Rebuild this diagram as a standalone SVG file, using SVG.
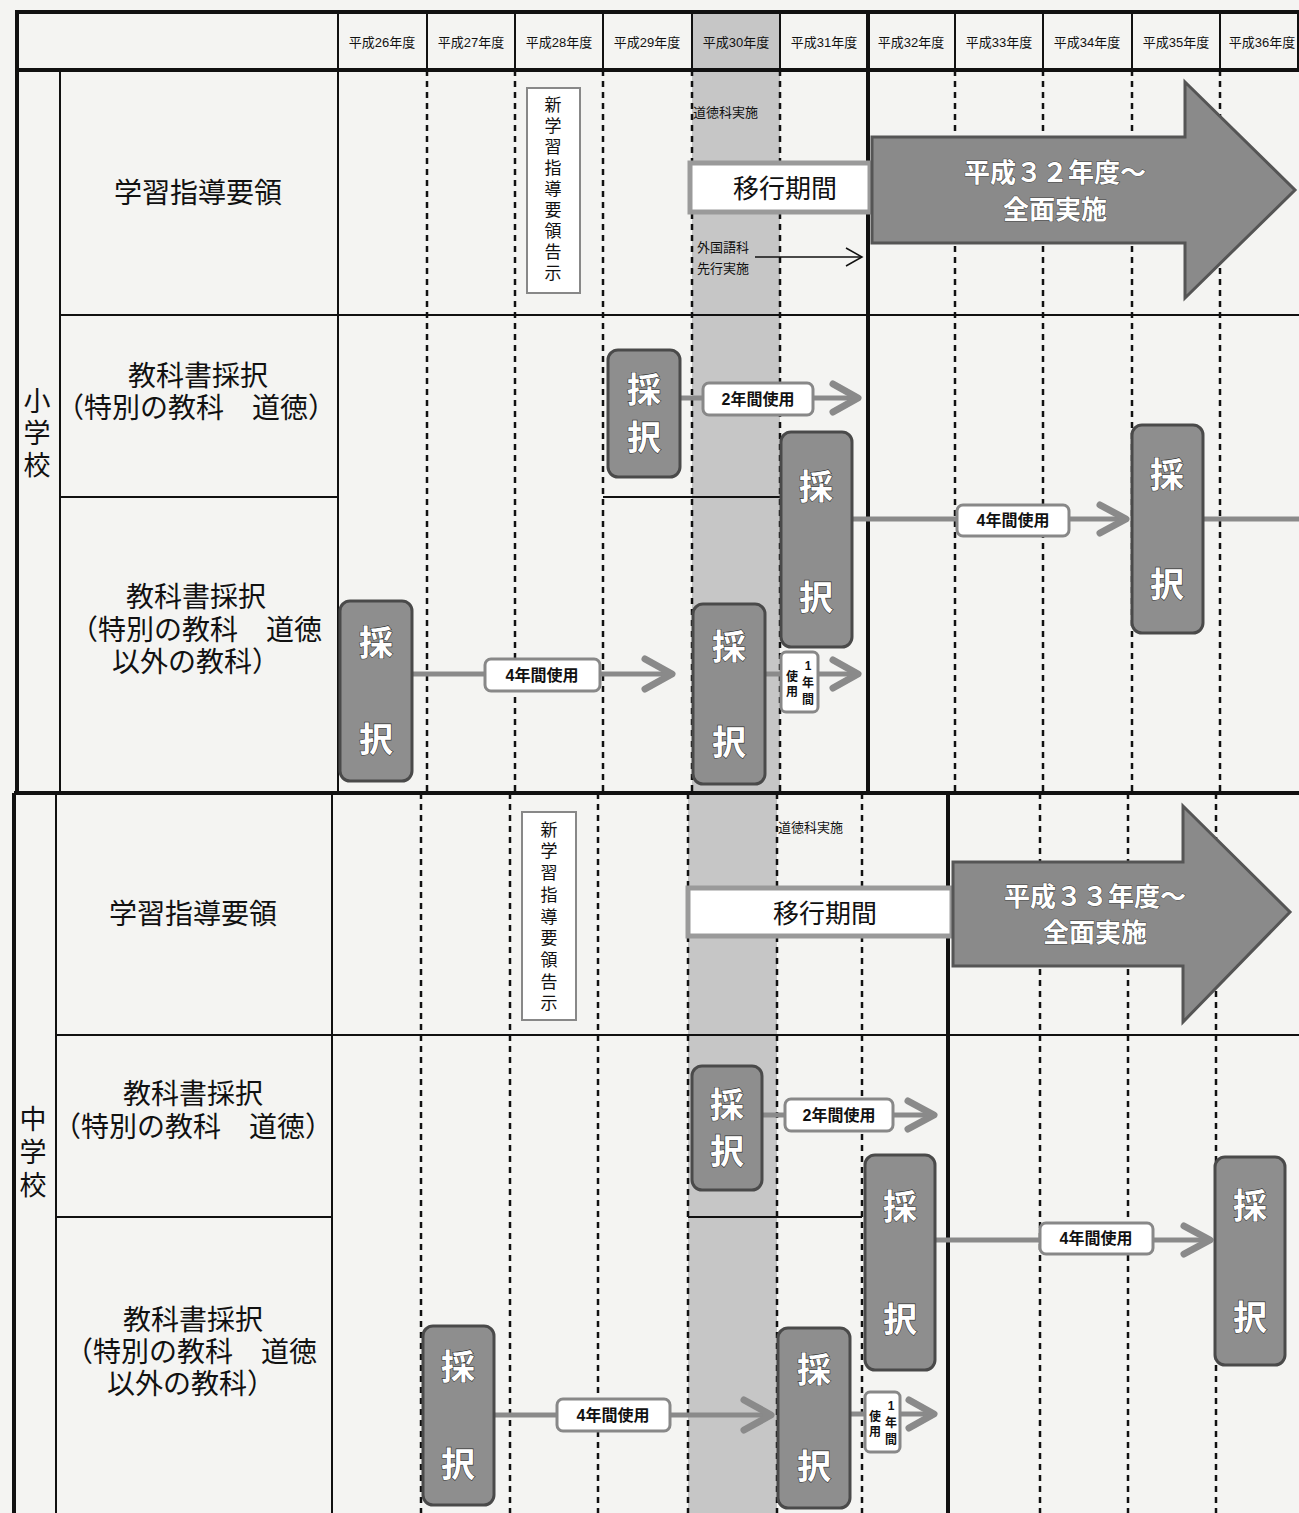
<svg xmlns="http://www.w3.org/2000/svg" width="1299" height="1513" viewBox="0 0 1299 1513">
<defs>
<style>
.t{font-family:"Liberation Sans","Noto Sans CJK JP",sans-serif;fill:#111}
.hd{font-size:13px;text-anchor:middle}
.lb{font-size:28px;text-anchor:middle}
.lv{font-size:27px;text-anchor:middle}
.sm{font-size:13px}
.vt{font-size:17px;text-anchor:middle}
.sel{fill:#8e8e8e;stroke:#4a4a4a;stroke-width:3}
.selt{font-family:"Liberation Sans","Noto Sans CJK JP",sans-serif;font-size:34px;font-weight:bold;fill:#fff;stroke:#333;stroke-width:1.2;paint-order:stroke;text-anchor:middle}
.big{fill:#8a8a8a;stroke:#555;stroke-width:3}
.bigt{font-family:"Liberation Sans","Noto Sans CJK JP",sans-serif;font-size:26px;font-weight:bold;fill:#fff;stroke:#444;stroke-width:1;paint-order:stroke;text-anchor:middle}
.ln{stroke:#111;stroke-width:2;fill:none}
.thk{stroke:#111;stroke-width:4;fill:none}
.ds{stroke:#111;stroke-width:2.5;stroke-dasharray:6 5;fill:none}
.ar{stroke:#8a8a8a;stroke-width:5;fill:none}
.ah{stroke:#8a8a8a;stroke-width:7;fill:none;stroke-linecap:round;stroke-linejoin:round}
.lab{fill:#fff;stroke:#888;stroke-width:3}
.labt{font-family:"Liberation Sans","Noto Sans CJK JP",sans-serif;font-size:16px;font-weight:bold;fill:#111;text-anchor:middle}
.tiny{font-family:"Liberation Sans","Noto Sans CJK JP",sans-serif;font-size:12px;font-weight:bold;fill:#111;text-anchor:middle}
.mig{fill:#fff;stroke:#9a9a9a;stroke-width:5}
.notice{fill:#fff;stroke:#888;stroke-width:2}
</style>
</defs>
<rect width="1299" height="1513" fill="#f4f4f2"/>
<g id="grid">
<rect x="692" y="12" width="88" height="781" fill="#c6c6c6"/>
<rect x="688" y="793" width="89" height="720" fill="#c6c6c6"/>
<rect x="17" y="12" width="1282" height="58" fill="none" class="thk"/>
<line x1="338" y1="12" x2="338" y2="70" class="ln"/>
<line x1="427" y1="12" x2="427" y2="70" class="ln"/>
<line x1="515" y1="12" x2="515" y2="70" class="ln"/>
<line x1="603" y1="12" x2="603" y2="70" class="ln"/>
<line x1="692" y1="12" x2="692" y2="70" class="ln"/>
<line x1="780" y1="12" x2="780" y2="70" class="ln"/>
<line x1="868" y1="12" x2="868" y2="793" class="thk"/>
<line x1="955" y1="12" x2="955" y2="70" class="ln"/>
<line x1="1043" y1="12" x2="1043" y2="70" class="ln"/>
<line x1="1132" y1="12" x2="1132" y2="70" class="ln"/>
<line x1="1220" y1="12" x2="1220" y2="70" class="ln"/>
<line x1="17" y1="70" x2="17" y2="793" class="thk"/>
<line x1="14" y1="793" x2="14" y2="1513" class="thk"/>
<line x1="60" y1="70" x2="60" y2="793" class="ln"/>
<line x1="56" y1="793" x2="56" y2="1513" class="ln"/>
<line x1="338" y1="70" x2="338" y2="793" class="ln"/>
<line x1="332" y1="793" x2="332" y2="1513" class="ln"/>
<line x1="14" y1="793" x2="1299" y2="793" class="thk"/>
<line x1="60" y1="315" x2="1299" y2="315" class="ln"/>
<line x1="60" y1="497" x2="338" y2="497" class="ln"/>
<line x1="603" y1="497" x2="780" y2="497" class="ln"/>
<line x1="56" y1="1035" x2="1299" y2="1035" class="ln"/>
<line x1="56" y1="1217" x2="332" y2="1217" class="ln"/>
<line x1="688" y1="1217" x2="862" y2="1217" class="ln"/>
<line x1="948" y1="793" x2="948" y2="1513" class="thk"/>
<g class="ds">
<line x1="427" y1="70" x2="427" y2="793"/>
<line x1="515" y1="70" x2="515" y2="793"/>
<line x1="603" y1="70" x2="603" y2="793"/>
<line x1="692" y1="70" x2="692" y2="793"/>
<line x1="780" y1="70" x2="780" y2="793"/>
<line x1="955" y1="70" x2="955" y2="793"/>
<line x1="1043" y1="70" x2="1043" y2="793"/>
<line x1="1132" y1="70" x2="1132" y2="793"/>
<line x1="1220" y1="70" x2="1220" y2="793"/>
<line x1="421" y1="793" x2="421" y2="1513"/>
<line x1="510" y1="793" x2="510" y2="1513"/>
<line x1="598" y1="793" x2="598" y2="1513"/>
<line x1="688" y1="793" x2="688" y2="1513"/>
<line x1="777" y1="793" x2="777" y2="1513"/>
<line x1="862" y1="793" x2="862" y2="1513"/>
<line x1="1040" y1="793" x2="1040" y2="1513"/>
<line x1="1128" y1="793" x2="1128" y2="1513"/>
<line x1="1216" y1="793" x2="1216" y2="1513"/>
</g>
</g>
<g id="header">
<text class="t hd" x="382" y="47">平成26年度</text>
<text class="t hd" x="471" y="47">平成27年度</text>
<text class="t hd" x="559" y="47">平成28年度</text>
<text class="t hd" x="647" y="47">平成29年度</text>
<text class="t hd" x="736" y="47">平成30年度</text>
<text class="t hd" x="824" y="47">平成31年度</text>
<text class="t hd" x="911" y="47">平成32年度</text>
<text class="t hd" x="999" y="47">平成33年度</text>
<text class="t hd" x="1087" y="47">平成34年度</text>
<text class="t hd" x="1176" y="47">平成35年度</text>
<text class="t hd" x="1262" y="47">平成36年度</text>
</g>
<g id="row-labels">
<text class="t lv" x="37" y="411">小</text>
<text class="t lv" x="37" y="443">学</text>
<text class="t lv" x="37" y="475">校</text>
<text class="t lv" x="33" y="1129">中</text>
<text class="t lv" x="33" y="1162">学</text>
<text class="t lv" x="33" y="1195">校</text>
<text class="t lb" x="198" y="203">学習指導要領</text>
<text class="t lb" x="198" y="386">教科書採択</text>
<text class="t lb" x="196" y="418">（特別の教科　道徳）</text>
<text class="t lb" x="196" y="607">教科書採択</text>
<text class="t lb" x="196" y="640">（特別の教科　道徳</text>
<text class="t lb" x="196" y="672">以外の教科）</text>
<text class="t lb" x="193" y="924">学習指導要領</text>
<text class="t lb" x="193" y="1104">教科書採択</text>
<text class="t lb" x="193" y="1137">（特別の教科　道徳）</text>
<text class="t lb" x="193" y="1330">教科書採択</text>
<text class="t lb" x="191" y="1362">（特別の教科　道徳</text>
<text class="t lb" x="191" y="1394">以外の教科）</text>
</g>
<g id="connectors">
<line x1="680" y1="398" x2="858" y2="398" class="ar"/>
<polyline points="833,384 858,398 833,412" class="ah"/>
<line x1="852" y1="519" x2="1126" y2="519" class="ar"/>
<polyline points="1100,505 1126,519 1100,533" class="ah"/>
<line x1="1203" y1="519" x2="1299" y2="519" class="ar"/>
<line x1="412" y1="674" x2="672" y2="674" class="ar"/>
<polyline points="645,659 672,674 645,689" class="ah"/>
<line x1="765" y1="674" x2="858" y2="674" class="ar"/>
<polyline points="833,660 858,674 833,688" class="ah"/>
<line x1="762" y1="1115" x2="934" y2="1115" class="ar"/>
<polyline points="908,1101 934,1115 908,1129" class="ah"/>
<line x1="935" y1="1240" x2="1210" y2="1240" class="ar"/>
<polyline points="1184,1226 1210,1240 1184,1254" class="ah"/>
<line x1="494" y1="1415" x2="771" y2="1415" class="ar"/>
<polyline points="744,1400 771,1415 744,1430" class="ah"/>
<line x1="850" y1="1414" x2="934" y2="1414" class="ar"/>
<polyline points="909,1400 934,1414 909,1428" class="ah"/>
<line x1="755" y1="257" x2="862" y2="257" stroke="#111" stroke-width="1.5"/>
<polyline points="846,248 862,257 846,266" fill="none" stroke="#111" stroke-width="1.5"/>
</g>
<g id="notice-es">
<rect x="527" y="88" width="53" height="205" class="notice"/>
<text class="t vt" x="553" y="111">新</text>
<text class="t vt" x="553" y="132">学</text>
<text class="t vt" x="553" y="153">習</text>
<text class="t vt" x="553" y="174">指</text>
<text class="t vt" x="553" y="195">導</text>
<text class="t vt" x="553" y="216">要</text>
<text class="t vt" x="553" y="237">領</text>
<text class="t vt" x="553" y="258">告</text>
<text class="t vt" x="553" y="279">示</text>
</g>
<g id="notice-jh">
<rect x="522" y="812" width="54" height="208" class="notice"/>
<text class="t vt" x="549" y="836">新</text>
<text class="t vt" x="549" y="857">学</text>
<text class="t vt" x="549" y="879">習</text>
<text class="t vt" x="549" y="901">指</text>
<text class="t vt" x="549" y="923">導</text>
<text class="t vt" x="549" y="944">要</text>
<text class="t vt" x="549" y="966">領</text>
<text class="t vt" x="549" y="988">告</text>
<text class="t vt" x="549" y="1009">示</text>
</g>
<g id="notes">
<text class="t sm" x="693" y="117">道徳科実施</text>
<text class="t sm" x="697" y="252">外国語科</text>
<text class="t sm" x="697" y="273">先行実施</text>
<text class="t sm" x="778" y="832">道徳科実施</text>
</g>
<g id="transition-es">
<rect x="690" y="163" width="180" height="49" class="mig"/>
<text class="t" x="785" y="198" font-size="26" text-anchor="middle">移行期間</text>
</g>
<g id="transition-jh">
<rect x="688" y="888" width="264" height="48" class="mig"/>
<text class="t" x="825" y="923" font-size="26" text-anchor="middle">移行期間</text>
</g>
<g id="full-es">
<polygon points="872,137 1185,137 1185,82 1295,190 1185,298 1185,243 872,243" class="big"/>
<text class="bigt" x="1055" y="182">平成３２年度～</text>
<text class="bigt" x="1055" y="219">全面実施</text>
</g>
<g id="full-jh">
<polygon points="953,862 1183,862 1183,806 1290,912 1183,1022 1183,966 953,966" class="big"/>
<text class="bigt" x="1095" y="906">平成３３年度～</text>
<text class="bigt" x="1095" y="942">全面実施</text>
</g>
<g id="sel-es-moral-29">
<rect x="608" y="350" width="72" height="127" rx="10" class="sel"/>
<text class="selt" x="644" y="402">採</text>
<text class="selt" x="644" y="450">択</text>
</g>
<g id="sel-es-moral-31">
<rect x="781" y="432" width="71" height="215" rx="10" class="sel"/>
<text class="selt" x="816" y="499">採</text>
<text class="selt" x="816" y="610">択</text>
</g>
<g id="sel-es-moral-35">
<rect x="1132" y="425" width="71" height="208" rx="10" class="sel"/>
<text class="selt" x="1167" y="487">採</text>
<text class="selt" x="1167" y="597">択</text>
</g>
<g id="sel-es-other-26">
<rect x="340" y="601" width="72" height="180" rx="10" class="sel"/>
<text class="selt" x="376" y="655">採</text>
<text class="selt" x="376" y="752">択</text>
</g>
<g id="sel-es-other-30">
<rect x="693" y="604" width="72" height="180" rx="10" class="sel"/>
<text class="selt" x="729" y="659">採</text>
<text class="selt" x="729" y="755">択</text>
</g>
<g id="sel-jh-moral-30">
<rect x="692" y="1066" width="70" height="124" rx="10" class="sel"/>
<text class="selt" x="727" y="1117">採</text>
<text class="selt" x="727" y="1164">択</text>
</g>
<g id="sel-jh-moral-31">
<rect x="865" y="1155" width="70" height="215" rx="10" class="sel"/>
<text class="selt" x="900" y="1219">採</text>
<text class="selt" x="900" y="1332">択</text>
</g>
<g id="sel-jh-moral-35">
<rect x="1215" y="1157" width="70" height="208" rx="10" class="sel"/>
<text class="selt" x="1250" y="1218">採</text>
<text class="selt" x="1250" y="1330">択</text>
</g>
<g id="sel-jh-other-27">
<rect x="423" y="1326" width="71" height="179" rx="10" class="sel"/>
<text class="selt" x="458" y="1379">採</text>
<text class="selt" x="458" y="1477">択</text>
</g>
<g id="sel-jh-other-31">
<rect x="778" y="1328" width="72" height="180" rx="10" class="sel"/>
<text class="selt" x="814" y="1382">採</text>
<text class="selt" x="814" y="1479">択</text>
</g>
<g id="labels">
<rect x="703" y="383" width="110" height="32" rx="6" class="lab"/>
<text class="labt" x="758" y="405">2年間使用</text>
<rect x="957" y="505" width="112" height="31" rx="6" class="lab"/>
<text class="labt" x="1013" y="526">4年間使用</text>
<rect x="485" y="659" width="115" height="32" rx="6" class="lab"/>
<text class="labt" x="542" y="681">4年間使用</text>
<rect x="785" y="1099" width="108" height="32" rx="6" class="lab"/>
<text class="labt" x="839" y="1121">2年間使用</text>
<rect x="1040" y="1223" width="113" height="31" rx="6" class="lab"/>
<text class="labt" x="1096" y="1244">4年間使用</text>
<rect x="557" y="1399" width="113" height="32" rx="6" class="lab"/>
<text class="labt" x="613" y="1421">4年間使用</text>
<rect x="781" y="652" width="37" height="60" rx="5" class="lab"/>
<text class="tiny" x="808" y="670">1</text>
<text class="tiny" x="808" y="687">年</text>
<text class="tiny" x="808" y="704">間</text>
<text class="tiny" x="792" y="681">使</text>
<text class="tiny" x="792" y="696">用</text>
<rect x="865" y="1392" width="35" height="60" rx="5" class="lab"/>
<text class="tiny" x="891" y="1410">1</text>
<text class="tiny" x="891" y="1427">年</text>
<text class="tiny" x="891" y="1444">間</text>
<text class="tiny" x="875" y="1421">使</text>
<text class="tiny" x="875" y="1436">用</text>
</g>
</svg>
